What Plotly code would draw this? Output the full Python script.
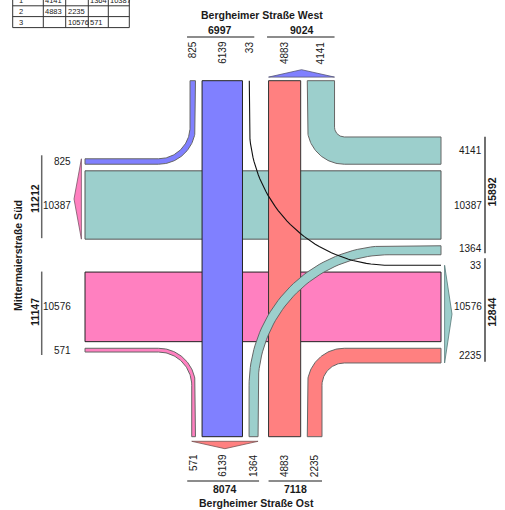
import math
import plotly.graph_objects as go

# ---------------- data ----------------
top_name = "Bergheimer Straße West"
bottom_name = "Bergheimer Straße Ost"
left_name = "Mittermaierstraße Süd"
right_name = "Mittermaierstraße Nord"

# flows entering from the top arm: turn to left arm, straight down, turn to right arm
from_top = [825, 6139, 33]
# flows entering from the bottom arm: straight up, turn to right arm
from_bottom = [4883, 2235]
# flows entering from the left arm: straight right, turn down
from_left = [10576, 571]
# flows entering from the right arm: turn up, straight left, turn down
from_right = [4141, 10387, 1364]

table_row_ids = ["1", "2", "3"]
table_cells = [["4141", "", "1364", "10387"],
               ["4883", "2235", "", ""],
               ["", "10576", "571", ""]]

t_l, t_s, t_r = from_top
b_s, b_r = from_bottom
l_s, l_d = from_left
r_u, r_s, r_d = from_right

# ---------------- style / layout ----------------
COL_TOP = "#8080FF"
COL_BOTTOM = "#FF8080"
COL_LEFT = "#FF80C0"
COL_RIGHT = "#9CCFCC"
FONT = "Arial, Liberation Sans, sans-serif"
TXT = "#1a1a1a"

K = 40.4 / 6139.0      # px per vehicle
G = 6.6                # gap between lanes
CG = 10.5              # centre gap
CX, CY = 263.3, 260.0
Y_TOP, Y_BOT, X_L, X_R = 80.7, 436.7, 85.0, 441.0
R_RIGHT, R_LEFT = 37.0, 140.0


def w(v):
    return v * K


# vertical lanes
xB0 = CX - CG / 2 - w(max(t_r, r_d))
xS1 = xB0 - G
xS0 = xS1 - w(t_s)
xA1 = xS0 - G
xN0 = CX + CG / 2
xN1 = xN0 + w(b_s)
xC0 = xN1 + G

v_tl = (xA1 - w(t_l), xA1)
v_ld = (xA1 - w(l_d), xA1)
v_tr = (xB0, xB0 + w(t_r))
v_rd = (xB0, xB0 + w(r_d))
v_ru = (xC0, xC0 + w(r_u))
v_br = (xC0, xC0 + w(b_r))

# horizontal lanes
yE1 = CY - CG / 2
yE0 = yE1 - w(max(r_d, 0))
yW1 = yE0 - G
yW0 = yW1 - w(r_s)
yD1 = yW0 - G
yF0 = CY + CG / 2
yF1 = yF0 + w(max(t_r, 0))
yL0 = yF1 + G
yL1 = yL0 + w(l_s)
yG0 = yL1 + G

h_tl = (yD1 - w(t_l), yD1)
h_ru = (yD1 - w(r_u), yD1)
h_rd = (yE0, yE0 + w(r_d))
h_tr = (yF1 - w(t_r), yF1)
h_ld = (yG0, yG0 + w(l_d))
h_br = (yG0, yG0 + w(b_r))

fig = go.Figure()


def poly(pts, fill, line_color, lw=1.0):
    xs = [p[0] for p in pts] + [pts[0][0]]
    ys = [p[1] for p in pts] + [pts[0][1]]
    fig.add_trace(go.Scatter(x=xs, y=ys, mode="lines", fill="toself",
                             fillcolor=fill, line=dict(color=line_color, width=lw),
                             hoverinfo="skip", showlegend=False))


def rect(x0, x1, y0, y1, fill, line_color, lw=1.0):
    poly([(x0, y0), (x1, y0), (x1, y1), (x0, y1)], fill, line_color, lw)


def edge_path(xe, ye, cxr, cyr, yv, xh, n=48):
    a1 = math.atan2(0.0, xe - cxr)
    a2 = math.atan2(ye - cyr, 0.0)
    r = abs(xe - cxr)
    d = (a2 - a1 + math.pi) % (2 * math.pi) - math.pi
    pts = [(xe, yv)]
    for i in range(n + 1):
        a = a1 + d * i / n
        pts.append((cxr + r * math.cos(a), cyr + r * math.sin(a)))
    pts.append((xh, ye))
    return pts


def turn_edges(vlane, hlane, yv, xh, right_turn):
    a0, a1 = vlane
    b0, b1 = hlane
    near_x, far_x = (a0, a1) if abs(CX - a0) < abs(CX - a1) else (a1, a0)
    near_y, far_y = (b0, b1) if abs(CY - b0) < abs(CY - b1) else (b1, b0)
    if right_turn:
        sx = 1 if CX > near_x else -1
        sy = 1 if CY > near_y else -1
        cxr, cyr = near_x - sx * R_RIGHT, near_y - sy * R_RIGHT
    else:
        sx = 1 if CX > far_x else -1
        sy = 1 if CY > far_y else -1
        cxr, cyr = far_x + sx * R_LEFT, far_y + sy * R_LEFT
    e1 = edge_path(near_x, near_y, cxr, cyr, yv, xh)
    e2 = edge_path(far_x, far_y, cxr, cyr, yv, xh)
    return e1, e2


def turn(vlane, hlane, yv, xh, right_turn, fill, line_color="#666666"):
    e1, e2 = turn_edges(vlane, hlane, yv, xh, right_turn)
    poly(e1 + e2[::-1], fill, line_color, 1.0)


# straight movements: horizontals first, then verticals
rect(X_L, X_R, yW0, yW1, COL_RIGHT, "#555555")
rect(X_L, X_R, yL0, yL1, COL_LEFT, "#222222")
rect(xS0, xS1, Y_TOP, Y_BOT, COL_TOP, "#222222")
rect(xN0, xN1, Y_TOP, Y_BOT, COL_BOTTOM, "#333333")

# turning movements
turn(v_tl, h_tl, Y_TOP, X_L, True, COL_TOP)
turn(v_ru, h_ru, Y_TOP, X_R, True, COL_RIGHT)
turn(v_ld, h_ld, Y_BOT, X_L, True, COL_LEFT)
turn(v_br, h_br, Y_BOT, X_R, True, COL_BOTTOM)
turn(v_rd, h_rd, Y_BOT, X_R, False, COL_RIGHT)

# very small flow drawn as a thin line
e1, e2 = turn_edges(v_tr, h_tr, Y_TOP, X_R, False)
fig.add_trace(go.Scatter(x=[p[0] for p in e1], y=[p[1] for p in e1], mode="lines",
                         line=dict(color="#111111", width=1.1), hoverinfo="skip",
                         showlegend=False))

# exit arrows
AG, AH = 3.6, 7.4
top_out = (xN0, v_ru[1])
bot_out = (v_ld[0], v_rd[1])
left_out = (h_tl[0], yW1)
right_out = (h_tr[0], h_br[1])
poly([(top_out[0], Y_TOP - AG), (top_out[1], Y_TOP - AG),
      ((top_out[0] + top_out[1]) / 2, Y_TOP - AG - AH)], COL_TOP, "#555577", 0.8)
poly([(bot_out[0], Y_BOT + AG + 1), (bot_out[1], Y_BOT + AG + 1),
      ((bot_out[0] + bot_out[1]) / 2, Y_BOT + AG + 1 + AH)], COL_BOTTOM, "#775555", 0.8)
poly([(X_L - AG, left_out[0]), (X_L - AG, left_out[1]),
      (X_L - AG - AH, (left_out[0] + left_out[1]) / 2)], COL_LEFT, "#775566", 0.8)
poly([(X_R + AG, right_out[0]), (X_R + AG, right_out[1]),
      (X_R + AG + AH, (right_out[0] + right_out[1]) / 2)], COL_RIGHT, "#557777", 0.8)

# ---------------- labels ----------------
anns = []
shapes = []


def ann(x, y, text, size=10, bold=False, angle=0, xa="center", ya="middle", color=TXT):
    anns.append(dict(x=x, y=y, xref="x", yref="y",
                     text=f"<b>{text}</b>" if bold else text, showarrow=False,
                     textangle=angle, xanchor=xa, yanchor=ya, borderpad=0,
                     font=dict(family=FONT, size=size, color=color)))


def seg(x0, y0, x1, y1, color="#666666", width=1.5):
    shapes.append(dict(type="line", xref="x", yref="y", x0=x0, y0=y0, x1=x1, y1=y1,
                       line=dict(color=color, width=width)))


def mid(l):
    return (l[0] + l[1]) / 2


# top arm
top_lanes = [(v_tl, t_l), ((xS0, xS1), t_s), (v_tr, t_r), ((xN0, xN1), b_s), (v_ru, r_u)]
for lane, val in top_lanes:
    ann(mid(lane), 40, str(val), angle=-90, ya="top")
g_in = (v_tl[0], v_tr[1])
g_out = (xN0, v_ru[1])
seg(g_in[0] - 3, 37, g_in[1] + 5, 37)
seg(g_out[0] - 1.5, 37, g_out[1], 37)
ann(mid(g_in), 30, str(t_l + t_s + t_r), size=10.5, bold=True)
ann(mid(g_out), 30, str(b_s + r_u), size=10.5, bold=True)
ann((v_tl[0] + v_ru[1]) / 2, 15, top_name, size=10.5, bold=True)

# bottom arm
bot_lanes = [(v_ld, l_d), ((xS0, xS1), t_s), (v_rd, r_d), ((xN0, xN1), b_s), (v_br, b_r)]
for lane, val in bot_lanes:
    ann(mid(lane), 453, str(val), angle=-90, ya="top")
g_bo = (v_ld[0], v_rd[1])
g_bi = (xN0, v_br[1])
seg(g_bo[0] - 4.5, 481, g_bo[1] + 1, 481)
seg(g_bi[0], 481, g_bi[1], 481)
ann(mid(g_bo), 488.5, str(l_d + t_s + r_d), size=10.5, bold=True)
ann(mid(g_bi), 488.5, str(b_s + b_r), size=10.5, bold=True)
ann((v_ld[0] + v_br[1]) / 2, 502.5, bottom_name, size=10.5, bold=True)

# left arm
left_lanes = [(h_tl, t_l), ((yW0, yW1), r_s), ((yL0, yL1), l_s), (h_ld, l_d)]
for lane, val in left_lanes:
    ann(72, mid(lane), str(val), xa="right")
g_lo = (h_tl[0], yW1)
g_li = (yL0, h_ld[1])
seg(41.7, g_lo[0] - 3.5, 41.7, g_lo[1] - 1)
seg(41.7, g_li[0] - 0.5, 41.7, g_li[1] + 3)
ann(35, mid(g_lo), str(t_l + r_s), size=10.5, bold=True, angle=-90)
ann(35, mid(g_li), str(l_s + l_d), size=10.5, bold=True, angle=-90)
ann(18.5, (h_tl[0] + h_ld[1]) / 2, left_name, size=10.5, bold=True, angle=-90)

# right arm
right_lanes = [(h_ru, r_u), ((yW0, yW1), r_s), (h_rd, r_d), (h_tr, t_r), ((yL0, yL1), l_s), (h_br, b_r)]
for lane, val in right_lanes:
    yy = mid(lane)
    if val == r_d:
        yy -= 2
    ann(483, yy, str(val), xa="right")
g_ri = (h_ru[0], h_rd[1])
g_ro = (h_tr[0], h_br[1])
seg(485, g_ri[0] - 0.3, 485, g_ri[1] - 1.5, color="#111111", width=1.2)
seg(485, g_ro[0] - 7, 485, g_ro[1] - 1.3, color="#111111", width=1.2)
ann(491.7, mid(g_ri) - 4, str(r_u + r_s + r_d), size=10.5, bold=True, angle=-90)
ann(491.7, mid(g_ro) - 2, str(t_r + l_s + b_r), size=10.5, bold=True, angle=-90)
ann(509.5, (h_ru[0] + h_br[1]) / 2, right_name, size=10.5, bold=True, angle=-90)

# small table (top-left, partly cut off)
tcols = [12.7, 43.3, 65.7, 88.3, 108.3, 129.3]
trows = [-5.2, 5.8, 16.6, 27.6]
for xc in tcols:
    seg(xc, trows[0], xc, trows[-1], color="#333333", width=1)
for yr in trows:
    seg(tcols[0], yr, tcols[-1], yr, color="#333333", width=1)
for i, rid in enumerate(table_row_ids):
    yc = max((trows[i] + trows[i + 1]) / 2, 0.5)
    ann(tcols[0] + 5.5, yc, rid, size=7.5, xa="left")
    for j, cell in enumerate(table_cells[i]):
        if cell:
            ann(tcols[j + 1] + 1.0, yc, cell, size=7.5, xa="left")

fig.update_layout(
    width=505, height=510,
    margin=dict(l=0, r=0, t=0, b=0),
    paper_bgcolor="white", plot_bgcolor="white",
    xaxis=dict(range=[0, 505], visible=False, fixedrange=True),
    yaxis=dict(range=[510, 0], visible=False, fixedrange=True),
    annotations=anns, shapes=shapes, showlegend=False,
)
fig.write_html("out.html", config={"displayModeBar": False},
               post_script="document.body.style.margin='0';document.body.style.overflow='hidden';")
